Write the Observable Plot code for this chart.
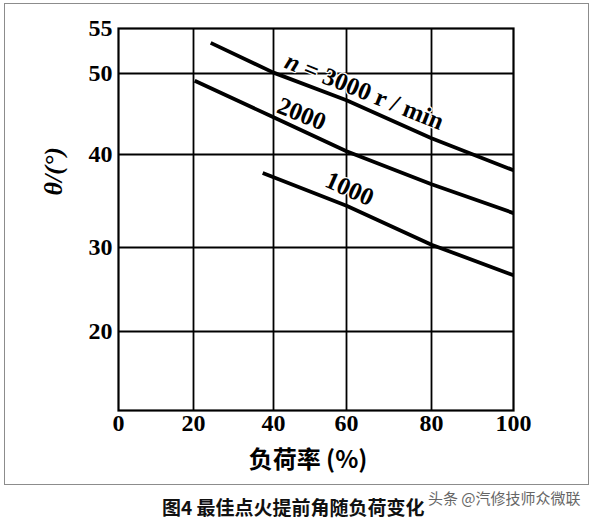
<!DOCTYPE html>
<html>
<head>
<meta charset="utf-8">
<script src="https://cdn.jsdelivr.net/npm/d3@7"></script>
<script src="https://cdn.jsdelivr.net/npm/@observablehq/plot@0.6"></script>
<style>
  body { margin: 0; background: #fff; }
  #wrap { position: relative; width: 595px; height: 520px; overflow: hidden; background: #fff; }
  #chart { position: absolute; left: 0; top: 0; }
  #border { position: absolute; left: 4px; top: 3px; width: 583px; height: 480px; border: 1.5px solid #8c8c8c; pointer-events: none; }
  #caption { position: absolute; left: 162px; top: 493px; line-height: 19px; font: bold 19px "Noto Sans CJK SC"; white-space: nowrap; color: #111; }
  #mark { position: absolute; left: 428px; top: 487px; line-height: 16px; font: 15px "Noto Sans CJK SC"; white-space: nowrap; color: #666; }
</style>
</head>
<body>
<div id="wrap">
  <div id="chart"></div>
  <div id="border"></div>
  <div id="caption">图4 最佳点火提前角随负荷变化</div>
  <div id="mark">头条 @汽修技师众微联</div>
</div>
<script>
// ---- data ----
const xTicks = [0, 20, 40, 60, 80, 100];          // 负荷率 (%)
const yTicks = [20, 30, 40, 50, 55];              // θ/(°)
const xGrid = [20, 40, 60, 80];
const yGrid = [20, 30, 40, 50];

const load3000 = [24.3, 40, 60, 80, 100];
const theta3000 = [53.4, 50.1, 46.7, 42.0, 38.3];
const load2000 = [20.3, 40, 60, 80, 100];
const theta2000 = [49.1, 44.6, 40.4, 36.8, 33.7];
const load1000 = [37.3, 60, 80, 100];
const theta1000 = [38.0, 34.5, 30.3, 26.7];

const seriesNames = ["3000", "2000", "1000"];
const seriesLabels = ["n = 3000 r / min", "2000", "1000"];
const xTitle = "负荷率 (%)";
const yTitle = "θ/(°)";

// ---- build table ----
const rows = [];
[[load3000, theta3000], [load2000, theta2000], [load1000, theta1000]].forEach(([xs, ys], k) => {
  xs.forEach((x, i) => rows.push({series: seriesNames[k], load: x, theta: ys[i]}));
});

const serif = "'Liberation Serif', 'Times New Roman', serif";
const labelStyle = {fontSize: 25, fontFamily: serif, fontWeight: "bold", fill: "black", stroke: "white", strokeWidth: 2.5, paintOrder: "stroke"};

const chart = Plot.plot({
  width: 595,
  height: 488,
  marginLeft: 118,
  marginRight: 82,
  marginTop: 28,
  marginBottom: 78,
  style: {fontFamily: serif, fontSize: "24px", fontWeight: "bold", background: "none", color: "black", overflow: "visible"},
  // the original figure's axes are hand drawn with a broken y axis (0 then 20)
  x: {type: "linear", domain: [0, 20, 40, 60, 80, 100], range: [118, 193, 273, 346, 431, 513]},
  y: {type: "linear", domain: [0, 20, 30, 40, 50, 55], range: [410, 331, 247, 154, 73, 28]},
  marks: [
    Plot.gridX({ticks: xGrid, stroke: "black", strokeOpacity: 1, strokeWidth: 1.8}),
    Plot.gridY({ticks: yGrid, stroke: "black", strokeOpacity: 1, strokeWidth: 1.8}),
    Plot.frame({stroke: "black", strokeWidth: 2.2}),
    Plot.text([seriesLabels[0]], {x: 64.2, y: 47.8, rotate: 22, ...labelStyle}),
    Plot.text([seriesLabels[1]], {x: 47.7, y: 45.0, rotate: 22, ...labelStyle}),
    Plot.text([seriesLabels[2]], {x: 60.7, y: 36.3, rotate: 24, ...labelStyle}),
    Plot.line(rows, {x: "load", y: "theta", z: "series", stroke: "black", strokeWidth: 3.8, strokeLinecap: "butt"}),
    Plot.axisX({ticks: xTicks, tickSize: 0, tickPadding: 3, label: null, fontSize: 24}),
    Plot.axisY({ticks: yTicks, tickSize: 0, tickPadding: 6, label: null, fontSize: 24}),
    Plot.text([yTitle], {frameAnchor: "left", dx: -65, dy: -24, rotate: -90, fontSize: 26, fontFamily: serif, fontStyle: "italic", fontWeight: "bold"}),
    Plot.text([xTitle], {frameAnchor: "bottom", dx: -8, dy: 57, fontSize: 24, fontFamily: "'Noto Sans CJK SC', sans-serif", fontWeight: "bold"})
  ]
});

// italic n in the 3000 label
d3.select(chart).selectAll("text")
  .filter(function () { return this.textContent === seriesLabels[0]; })
  .each(function () {
    const t = d3.select(this);
    t.text(null);
    t.append("tspan").attr("font-style", "italic").text("n");
    t.append("tspan").text(" = 3000 r / min");
  });

document.getElementById("chart").appendChild(chart);
</script>
</body>
</html>
